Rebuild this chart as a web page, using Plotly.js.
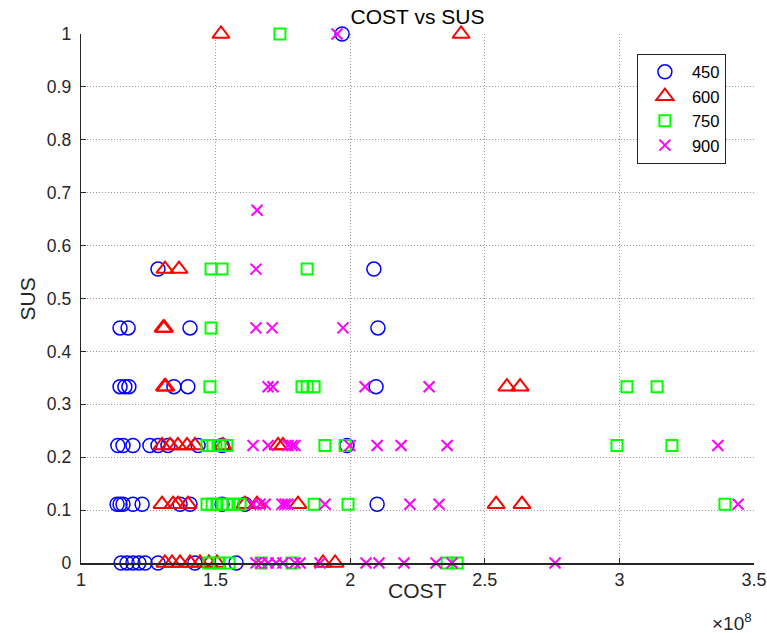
<!DOCTYPE html>
<html>
<head>
<meta charset="utf-8">
<script src="https://cdn.plot.ly/plotly-3.0.1.min.js"></script>
<style>
html,body{margin:0;padding:0;background:#fff;}
#chart{width:767px;height:633px;}
</style>
</head>
<body>
<div id="chart"></div>
<script>
// COST values are in units of 1e8, SUS values are fractions
const cost450 = [1.970, 1.286, 2.088, 1.145, 1.175, 1.405, 2.103,
  1.145, 1.163, 1.178, 1.345, 1.397, 2.096,
  1.137, 1.156, 1.193, 1.256, 1.286, 1.323, 1.435, 1.524, 1.988,
  1.134, 1.145, 1.156, 1.193, 1.227, 1.368, 1.405, 1.524, 1.609, 2.100,
  1.149, 1.171, 1.193, 1.215, 1.238, 1.286, 1.423, 1.576];
const sus450 = [1, 0.5556, 0.5556, 0.4444, 0.4444, 0.4444, 0.4444,
  0.3333, 0.3333, 0.3333, 0.3333, 0.3333, 0.3333,
  0.2222, 0.2222, 0.2222, 0.2222, 0.2222, 0.2222, 0.2222, 0.2222, 0.2222,
  0.1111, 0.1111, 0.1111, 0.1111, 0.1111, 0.1111, 0.1111, 0.1111, 0.1111, 0.1111,
  0, 0, 0, 0, 0, 0, 0, 0];

const cost600 = [1.520, 2.412, 1.312, 1.364, 1.305, 1.310,
  1.310, 1.315, 2.582, 2.631,
  1.301, 1.331, 1.360, 1.394, 1.423, 1.527, 1.732, 1.750,
  1.301, 1.342, 1.360, 1.397, 1.609, 1.654, 1.806, 2.542, 2.638,
  1.312, 1.338, 1.368, 1.405, 1.442, 1.475, 1.505, 1.899, 1.944];
const sus600 = [1, 1, 0.5556, 0.5556, 0.4444, 0.4444,
  0.3333, 0.3333, 0.3333, 0.3333,
  0.2222, 0.2222, 0.2222, 0.2222, 0.2222, 0.2222, 0.2222, 0.2222,
  0.1111, 0.1111, 0.1111, 0.1111, 0.1111, 0.1111, 0.1111, 0.1111, 0.1111,
  0, 0, 0, 0, 0, 0, 0, 0, 0];

const cost750 = [1.739, 1.483, 1.524, 1.840, 1.483,
  1.479, 1.821, 1.840, 1.866, 3.028, 3.140,
  1.468, 1.490, 1.516, 1.542, 1.906, 1.981, 2.991, 3.195,
  1.468, 1.487, 1.505, 1.524, 1.542, 1.565, 1.591, 1.866, 1.992, 3.392,
  1.475, 1.513, 1.550, 1.669, 1.784, 2.360, 2.397];
const sus750 = [1, 0.5556, 0.5556, 0.5556, 0.4444,
  0.3333, 0.3333, 0.3333, 0.3333, 0.3333, 0.3333,
  0.2222, 0.2222, 0.2222, 0.2222, 0.2222, 0.2222, 0.2222, 0.2222,
  0.1111, 0.1111, 0.1111, 0.1111, 0.1111, 0.1111, 0.1111, 0.1111, 0.1111, 0.1111,
  0, 0, 0, 0, 0, 0, 0];

const cost900 = [1.951, 1.654, 1.650, 1.650, 1.710, 1.973,
  1.695, 1.713, 2.055, 2.293,
  1.639, 1.695, 1.769, 1.784, 1.795, 1.999, 2.100, 2.189, 2.360, 3.366,
  1.639, 1.665, 1.684, 1.747, 1.758, 1.769, 1.906, 2.222, 2.330, 3.441,
  1.650, 1.669, 1.695, 1.724, 1.750, 1.795, 1.814, 1.888, 2.059, 2.107, 2.200, 2.319, 2.378, 2.761];
const sus900 = [1, 0.6667, 0.5556, 0.4444, 0.4444, 0.4444,
  0.3333, 0.3333, 0.3333, 0.3333,
  0.2222, 0.2222, 0.2222, 0.2222, 0.2222, 0.2222, 0.2222, 0.2222, 0.2222, 0.2222,
  0.1111, 0.1111, 0.1111, 0.1111, 0.1111, 0.1111, 0.1111, 0.1111, 0.1111, 0.1111,
  0, 0, 0, 0, 0, 0, 0, 0, 0, 0, 0, 0, 0, 0];

const seriesNames = ['450', '600', '750', '900'];
const xTicks = [1, 1.5, 2, 2.5, 3, 3.5];
const xTickText = ['1', '1.5', '2', '2.5', '3', '3.5'];
const yTicks = [0, 0.1, 0.2, 0.3, 0.4, 0.5, 0.6, 0.7, 0.8, 0.9, 1];
const yTickText = ['0', '0.1', '0.2', '0.3', '0.4', '0.5', '0.6', '0.7', '0.8', '0.9', '1'];

const FONT = 'Liberation Sans, Arial, Helvetica, sans-serif';
const AX = '#262626';
const GRID = '#9a9a9a';
const PAD = '\u00a0';

const traces = [
  {x: cost450, y: sus450, name: seriesNames[0], type: 'scatter', mode: 'markers', cliponaxis: false,
   marker: {symbol: 'circle-open', size: 14, color: '#0000ff', line: {width: 1.5, color: '#0000ff'}}},
  {x: cost600, y: sus600, name: seriesNames[1], type: 'scatter', mode: 'markers', cliponaxis: false,
   marker: {symbol: 'triangle-up-open', size: 15, color: '#ff0000', line: {width: 2, color: '#ff0000'}}},
  {x: cost750, y: sus750, name: seriesNames[2], type: 'scatter', mode: 'markers', cliponaxis: false,
   marker: {symbol: 'square-open', size: 11, color: '#00ff00', line: {width: 2, color: '#00ff00'}}},
  {x: cost900, y: sus900, name: seriesNames[3], type: 'scatter', mode: 'markers', cliponaxis: false,
   marker: {symbol: 'x-thin-open', size: 11, color: '#ff00ff', line: {width: 2, color: '#ff00ff'}}}
];

const layout = {
  width: 767, height: 633,
  paper_bgcolor: '#ffffff', plot_bgcolor: '#ffffff',
  margin: {l: 81, r: 13, t: 33.5, b: 70.3, pad: 0},
  font: {family: FONT, color: AX, size: 18},
  title: {text: 'COST vs SUS', x: 0.5, xref: 'paper', xanchor: 'center', y: 0.973, yref: 'container', yanchor: 'middle',
          font: {family: FONT, size: 21, color: '#000000'}},
  showlegend: true,
  legend: {x: 0.826, y: 0.963, xanchor: 'left', yanchor: 'top', xref: 'paper', yref: 'paper',
           bordercolor: AX, borderwidth: 1, bgcolor: '#ffffff',
           font: {family: FONT, size: 16.5, color: '#000000'}, itemwidth: 44, tracegroupgap: 0},
  xaxis: {range: [1, 3.5], tickmode: 'array', tickvals: xTicks, ticktext: xTickText,
          ticks: 'inside', ticklen: 5, tickwidth: 1, tickcolor: AX,
          showline: true, linecolor: AX, linewidth: 1.5, mirror: false,
          showgrid: true, gridcolor: GRID, gridwidth: 1, griddash: '1px,2px', zeroline: false,
          tickfont: {family: FONT, size: 18, color: AX}},
  yaxis: {range: [0, 1], tickmode: 'array', tickvals: yTicks, ticktext: yTickText.map(t => t + PAD),
          ticks: 'inside', ticklen: 5, tickwidth: 1, tickcolor: AX,
          showline: true, linecolor: AX, linewidth: 1.5, mirror: false,
          showgrid: true, gridcolor: GRID, gridwidth: 1, griddash: '1px,2px', zeroline: false,
          tickfont: {family: FONT, size: 17.5, color: AX}},
  annotations: [
    {text: 'COST', xref: 'paper', yref: 'paper', x: 0.5, y: -0.0516, xanchor: 'center', yanchor: 'middle',
     showarrow: false, font: {family: FONT, size: 21, color: AX}},
    {text: 'SUS', xref: 'paper', yref: 'paper', x: -0.0788, y: 0.5, xanchor: 'center', yanchor: 'middle',
     textangle: -90, showarrow: false, font: {family: FONT, size: 21, color: AX}},
    {text: '×10<sup>8</sup>', xref: 'paper', yref: 'paper', x: 1.0, y: -0.085, xanchor: 'right', yanchor: 'top',
     showarrow: false, font: {family: FONT, size: 19, color: AX}}
  ]
};

Plotly.newPlot('chart', traces, layout, {displayModeBar: false, staticPlot: true});
</script>
</body>
</html>
